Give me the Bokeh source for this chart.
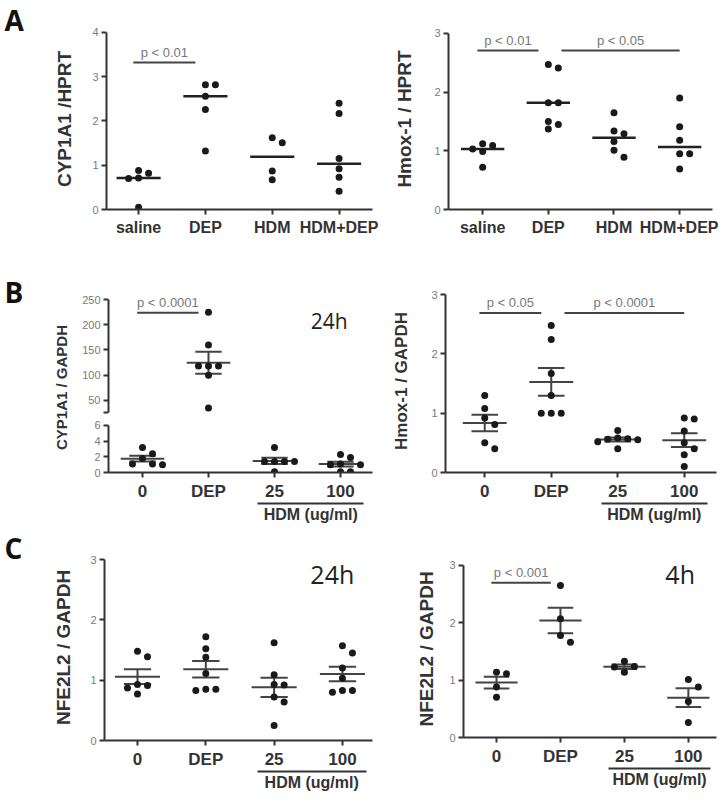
import numpy as np
from math import pi
from bokeh.plotting import figure
from bokeh.layouts import row, column
from bokeh.models import Range1d, FixedTicker, LinearAxis
from bokeh.core.properties import value
from bokeh.embed import file_html
from bokeh.resources import INLINE

# ---------------- data ----------------
cats_a = ["saline", "DEP", "HDM", "HDM+DEP"]
cats_b = ["0", "DEP", "25", "100"]
hdm_group = "HDM (ug/ml)"

cyp1a1_hprt = [[0.88, 0.82, 0.71, 0.70, 0.05],
               [2.82, 2.82, 2.56, 2.26, 1.32],
               [1.62, 1.51, 0.87, 0.67],
               [2.40, 2.17, 1.15, 0.92, 0.73, 0.41]]
hmox1_hprt = [[1.12, 1.09, 1.03, 0.99, 0.72],
              [2.47, 2.41, 1.82, 1.82, 1.50, 1.45, 1.37],
              [1.65, 1.34, 1.29, 1.16, 1.01, 0.89],
              [1.90, 1.41, 1.18, 0.95, 0.95, 0.69]]
cyp1a1_gapdh_24h = [[3.2, 2.4, 1.8, 1.1, 1.1, 1.0],
                    [225, 160, 118, 118, 118, 100, 35],
                    [3.2, 1.4, 1.4, 1.4, 1.4, 0.1],
                    [2.3, 1.9, 1.1, 1.0, 1.0, 0.1, 0.1]]
hmox1_gapdh_24h = [[1.30, 1.08, 0.92, 0.81, 0.50, 0.40],
                   [2.48, 2.24, 1.67, 1.30, 1.00, 1.00, 1.00],
                   [0.71, 0.58, 0.57, 0.56, 0.55, 0.52, 0.40],
                   [0.92, 0.90, 0.70, 0.50, 0.40, 0.30, 0.10]]
nfe2l2_gapdh_24h = [[1.48, 1.39, 0.93, 0.91, 0.87, 0.77],
                    [1.72, 1.52, 1.38, 1.11, 0.85, 0.83, 0.85],
                    [1.62, 1.09, 0.93, 0.92, 0.72, 0.64, 0.25],
                    [1.57, 1.45, 1.20, 1.03, 0.83, 0.80, 0.83]]
nfe2l2_gapdh_4h = [[1.14, 1.11, 0.88, 0.70],
                   [2.65, 2.07, 1.78, 1.66],
                   [1.33, 1.24, 1.23, 1.14],
                   [1.01, 0.88, 0.63, 0.26]]

ticks_a1 = [0, 1, 2, 3, 4]
ticks_3 = [0, 1, 2, 3]
ticks_b1_top = [50, 100, 150, 200, 250]
ticks_b1_low = [0, 2, 4, 6]

pvals_a1 = [(1, 2, "p < 0.01", 3.32)]
pvals_a2 = [(1, 2, "p < 0.01", 2.71), (2, 4, "p < 0.05", 2.71)]
pvals_b1 = [(1, 2, "p < 0.0001", 224)]
pvals_b2 = [(1, 2, "p < 0.05", 2.69), (2, 4, "p < 0.0001", 2.69)]
pvals_c2 = [(1, 2, "p < 0.001", 2.70)]

# ---------------- style ----------------
FONT = "Liberation Sans"
DARK = "#333333"
DOT = "#1a1a1a"
TICKC = "#7a7a7a"
HDM_SPAN = (2.75, 4.35)


def no_align(p):
    try:
        p.frame_align = False
    except Exception:
        pass


def make_fig(w, h, bl, br, bt, bb, xr, yr, xaxis=True):
    kw = dict(width=w, height=h, x_range=Range1d(*xr), y_range=Range1d(*yr),
              min_border_left=bl, min_border_right=br, min_border_top=bt,
              min_border_bottom=bb, toolbar_location=None, output_backend="svg",
              outline_line_color=None, title=None)
    if not xaxis:
        kw["x_axis_location"] = None
    p = figure(**kw)
    p.grid.visible = False
    no_align(p)
    p._ppx = (w - bl - br) / (xr[1] - xr[0])
    p._ppy = (h - bt - bb) / (yr[1] - yr[0])
    return p


def style_axis(ax):
    ax.axis_line_color = DARK
    ax.axis_line_width = 2
    ax.major_tick_line_color = DARK
    ax.major_tick_line_width = 2
    ax.major_tick_out = 5
    ax.major_tick_in = 0
    ax.minor_tick_line_color = None
    ax.major_label_text_font = FONT


def y_axis(p, ticks, label=None, size="19px", standoff=14, bounds=None, blank=None):
    ax = p.yaxis[0]
    style_axis(ax)
    tk = list(ticks) + ([blank] if blank is not None else [])
    ax.ticker = FixedTicker(ticks=tk)
    ax.bounds = bounds if bounds else (ticks[0], ticks[-1])
    if blank is not None:
        ax.major_label_overrides = {blank: ""}
    ax.major_label_text_font_size = "11px"
    ax.major_label_text_color = TICKC
    ax.major_label_standoff = 3
    if label:
        ax.axis_label = label
        ax.axis_label_text_font = FONT
        ax.axis_label_text_font_style = "bold"
        ax.axis_label_text_font_size = size
        ax.axis_label_text_color = DARK
        ax.axis_label_standoff = standoff


def x_axis(p, cats, hdm=False, size="16px"):
    ax = p.xaxis[0]
    style_axis(ax)
    ax.ticker = FixedTicker(ticks=list(range(1, len(cats) + 1)))
    ax.major_label_overrides = {i + 1: c for i, c in enumerate(cats)}
    ax.major_label_text_font_size = size
    ax.major_label_text_font_style = "bold"
    ax.major_label_text_color = DARK
    ax.major_label_standoff = 4
    if hdm:
        mid = 3.55
        ax2 = LinearAxis(ticker=FixedTicker(ticks=[mid]), bounds=HDM_SPAN)
        ax2.major_label_overrides = {mid: hdm_group}
        ax2.axis_line_color = DARK
        ax2.axis_line_width = 2
        ax2.major_tick_line_color = None
        ax2.major_tick_out = 0
        ax2.major_tick_in = 0
        ax2.minor_tick_line_color = None
        ax2.major_label_standoff = 2
        ax2.major_label_text_font = FONT
        ax2.major_label_text_font_style = "bold"
        ax2.major_label_text_font_size = "16px"
        ax2.major_label_text_color = DARK
        p.add_layout(ax2, "below")


def swarm(vals, ppx, ppy, step=10.0, dmin=7.5):
    vals = np.asarray(vals, dtype=float)
    order = np.argsort(-vals, kind="stable")
    placed = []
    offs = np.zeros(len(vals))
    for i in order:
        y = vals[i] * ppy
        x = 0.0
        for k in (0, 1, -1, 2, -2, 3, -3):
            x = k * step
            if all((x - a) ** 2 + (y - b) ** 2 >= dmin ** 2 for a, b in placed):
                break
        placed.append((x, y))
        offs[i] = x / ppx
    return offs


def draw_points(p, groups):
    xs, ys = [], []
    for gi, vals in enumerate(groups):
        off = swarm(vals, p._ppx, p._ppy)
        xs += list(gi + 1 + off)
        ys += list(vals)
    p.scatter(xs, ys, size=7, fill_color=DOT, line_color=None)


def draw_median(p, groups):
    med = np.array([np.median(g) for g in groups])
    x = np.arange(1, len(groups) + 1)
    p.segment(x - 0.33, med, x + 0.33, med, line_width=2.5, color="#222222")


def draw_mean_sem(p, groups):
    m = np.array([np.mean(g) for g in groups])
    s = np.array([np.std(g, ddof=1) / np.sqrt(len(g)) for g in groups])
    x = np.arange(1, len(groups) + 1)
    c = "#444444"
    p.segment(x - 0.33, m, x + 0.33, m, line_width=2, color=c)
    p.segment(x - 0.2, m + s, x + 0.2, m + s, line_width=2, color=c)
    p.segment(x - 0.2, m - s, x + 0.2, m - s, line_width=2, color=c)
    p.segment(x, m - s, x, m + s, line_width=2, color=c)


def draw_pvals(p, comps):
    for i, j, txt, y in comps:
        if j == i + 1:
            x0, x1 = i - 0.08, j - 0.15
        else:
            x0, x1 = i + 0.2, j
        p.segment([x0], [y], [x1], [y], line_width=2, color="#444444")
        p.text([(x0 + x1) / 2], [y], [txt], text_align="center",
               text_baseline="bottom", y_offset=-3, text_font=value(FONT),
               text_font_size="13px", text_color="#777777")


def big_text(p, x, y, txt, size):
    p.text([x], [y], [txt], text_align="left", text_baseline="bottom",
           text_font=value("Open Sans"), text_font_size=size, text_color="#222222")


def letter_fig(letter, w, h, ybottom, extra=None):
    p = figure(width=w, height=h, x_range=Range1d(0, w), y_range=Range1d(0, h),
               min_border=0, toolbar_location=None, output_backend="svg",
               x_axis_location=None, y_axis_location=None, outline_line_color=None,
               title=None)
    p.grid.visible = False
    no_align(p)
    p.text([4], [h - ybottom], [letter], text_align="left", text_baseline="bottom",
           text_font=value("Open Sans"), text_font_size="28px",
           text_font_style="bold", text_color="#111111")
    if extra:
        txt, ex, ey, size = extra
        p.text([ex], [h - ey], [txt], angle=pi / 2, text_align="center",
               text_baseline="middle", text_font=value(FONT), text_font_size=size,
               text_font_style="bold", text_color=DARK)
    return p


# ---------------- row A ----------------
letA = letter_fig("A", 48, 258, 38)

a1 = make_fig(340, 258, 58, 16, 28, 49, (0.52, 4.5), (0, 4.09))
y_axis(a1, ticks_a1, "CYP1A1 /HPRT", "19px", 14)
x_axis(a1, cats_a)
draw_median(a1, cyp1a1_hprt)
draw_pvals(a1, pvals_a1)
draw_points(a1, cyp1a1_hprt)

a2 = make_fig(330, 258, 60, 6, 28, 49, (0.48, 4.5), (0, 3.085))
y_axis(a2, ticks_3, "Hmox-1 / HPRT", "19px", 16)
x_axis(a2, cats_a)
draw_median(a2, hmox1_hprt)
draw_pvals(a2, pvals_a2)
draw_points(a2, hmox1_hprt)

# ---------------- row B ----------------
letB = letter_fig("B", 74, 270, 52, ("CYP1A1 / GAPDH", 61, 129, "15px"))

b1t = make_fig(314, 159, 34, 16, 31, 5, (0.485, 4.485), (26, 270), xaxis=False)
y_axis(b1t, ticks_b1_top, bounds=(26, 250), blank=26)
draw_mean_sem(b1t, cyp1a1_gapdh_24h)
draw_pvals(b1t, pvals_b1)
draw_points(b1t, cyp1a1_gapdh_24h)
big_text(b1t, 3.55, 179, "24h", "21px")

b1l = make_fig(314, 111, 34, 16, 5, 56, (0.485, 4.485), (0, 6.38))
y_axis(b1l, ticks_b1_low)
x_axis(b1l, cats_b, hdm=True, size="17px")
draw_mean_sem(b1l, cyp1a1_gapdh_24h)
draw_points(b1l, cyp1a1_gapdh_24h)

b2 = make_fig(330, 270, 57, 2, 31, 56, (0.41, 4.485), (0, 3.085))
y_axis(b2, ticks_3, "Hmox-1 / GAPDH", "17px", 17)
x_axis(b2, cats_b, hdm=True, size="17px")
draw_mean_sem(b2, hmox1_gapdh_24h)
draw_pvals(b2, pvals_b2)
draw_points(b2, hmox1_gapdh_24h)

# ---------------- row C ----------------
letC = letter_fig("C", 48, 265, 38)

c1 = make_fig(340, 265, 56, 16, 26, 53, (0.517, 4.44), (0, 3.083))
y_axis(c1, ticks_3, "NFE2L2 / GAPDH", "19px", 13)
x_axis(c1, cats_b, hdm=True, size="17px")
draw_mean_sem(c1, nfe2l2_gapdh_24h)
draw_points(c1, nfe2l2_gapdh_24h)
big_text(c1, 3.53, 2.47, "24h", "25px")

c2 = make_fig(330, 265, 75, 2, 32, 56, (0.484, 4.44), (0, 3.087))
y_axis(c2, ticks_3, "NFE2L2 / GAPDH", "19px", 9)
x_axis(c2, cats_b, hdm=True, size="17px")
draw_mean_sem(c2, nfe2l2_gapdh_4h)
draw_pvals(c2, pvals_c2)
draw_points(c2, nfe2l2_gapdh_4h)
big_text(c2, 3.64, 2.55, "4h", "25px")

root = column(row(letA, a1, a2),
              row(letB, column(b1t, b1l), b2),
              row(letC, c1, c2))

open("out.html", "w").write(file_html(root, INLINE, title="Gene expression"))
